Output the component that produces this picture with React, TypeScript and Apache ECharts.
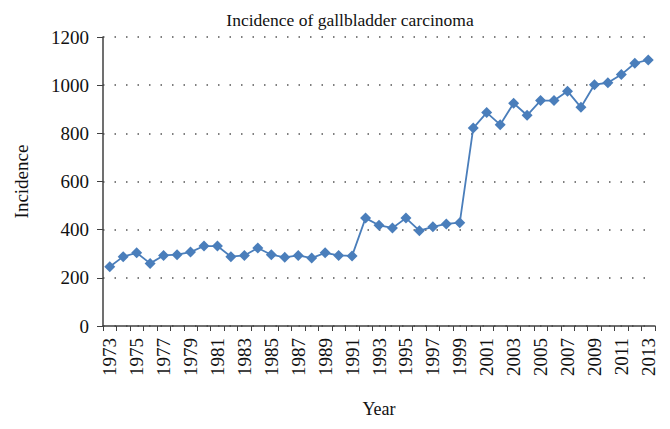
import React, { useEffect, useRef } from "react";
import * as echarts from "echarts";

const years: string[] = [
  "1973","1974","1975","1976","1977","1978","1979","1980","1981","1982",
  "1983","1984","1985","1986","1987","1988","1989","1990","1991","1992",
  "1993","1994","1995","1996","1997","1998","1999","2000","2001","2002",
  "2003","2004","2005","2006","2007","2008","2009","2010","2011","2012","2013",
];
const incidence: number[] = [
  246, 288, 304, 260, 293, 296, 307, 332, 332, 288,
  293, 324, 296, 285, 293, 282, 304, 293, 291, 448,
  418, 407, 448, 396, 412, 424, 429, 822, 886, 836,
  925, 875, 936, 936, 975, 908, 1002, 1010, 1044, 1091, 1105,
];

const FONT = "'Liberation Serif', 'DejaVu Serif', serif";

export default function App() {
  const ref = useRef<HTMLDivElement>(null);
  useEffect(() => {
    if (!ref.current) return;
    document.body.style.margin = "0";
    const chart = echarts.init(ref.current, null, { renderer: "svg" });
    chart.setOption({
      animation: false,
      backgroundColor: "#ffffff",
      title: {
        text: "Incidence of gallbladder carcinoma",
        left: 345,
        top: 6,
        textAlign: "center",
        textStyle: { fontFamily: FONT, fontSize: 17.5, fontWeight: "normal", color: "#111" },
      },
      grid: { left: 103, right: 15, top: 37, bottom: 103, containLabel: false, outerBoundsMode: "none" },
      xAxis: {
        type: "category",
        data: years,
        boundaryGap: true,
        name: "Year",
        nameLocation: "middle",
        nameGap: 74,
        nameTextStyle: { fontFamily: FONT, fontSize: 18, color: "#111" },
        axisLine: { lineStyle: { color: "#404040", width: 1.5 } },
        axisTick: { show: true, interval: 0, alignWithLabel: false, length: 5, lineStyle: { color: "#404040" } },
        axisLabel: {
          interval: 1,
          rotate: 90,
          fontFamily: FONT,
          fontSize: 19,
          color: "#111",
          margin: 12,
        },
        splitLine: { show: false },
      },
      yAxis: {
        type: "value",
        min: 0,
        max: 1200,
        interval: 200,
        name: "Incidence",
        nameLocation: "middle",
        nameGap: 72,
        nameRotate: 90,
        nameTextStyle: { fontFamily: FONT, fontSize: 19, color: "#111" },
        axisLine: { show: true, lineStyle: { color: "#404040", width: 1.5 } },
        axisTick: { show: true, length: 6, lineStyle: { color: "#404040" } },
        axisLabel: {
          fontFamily: FONT,
          fontSize: 19,
          color: "#111",
          margin: 14,
          formatter: (v: number) => String(v),
        },
        splitLine: { show: true, lineStyle: { type: [1.5, 10], color: "#555", width: 1.5 } },
      },
      series: [
        {
          type: "line",
          data: incidence,
          symbol: "diamond",
          symbolSize: 11,
          showAllSymbol: true,
          lineStyle: { color: "#4a7ebb", width: 1.8 },
          itemStyle: { color: "#4a7ebb" },
        },
      ],
    });
    return () => chart.dispose();
  }, []);
  return <div ref={ref} style={{ width: 670, height: 429 }} />;
}
